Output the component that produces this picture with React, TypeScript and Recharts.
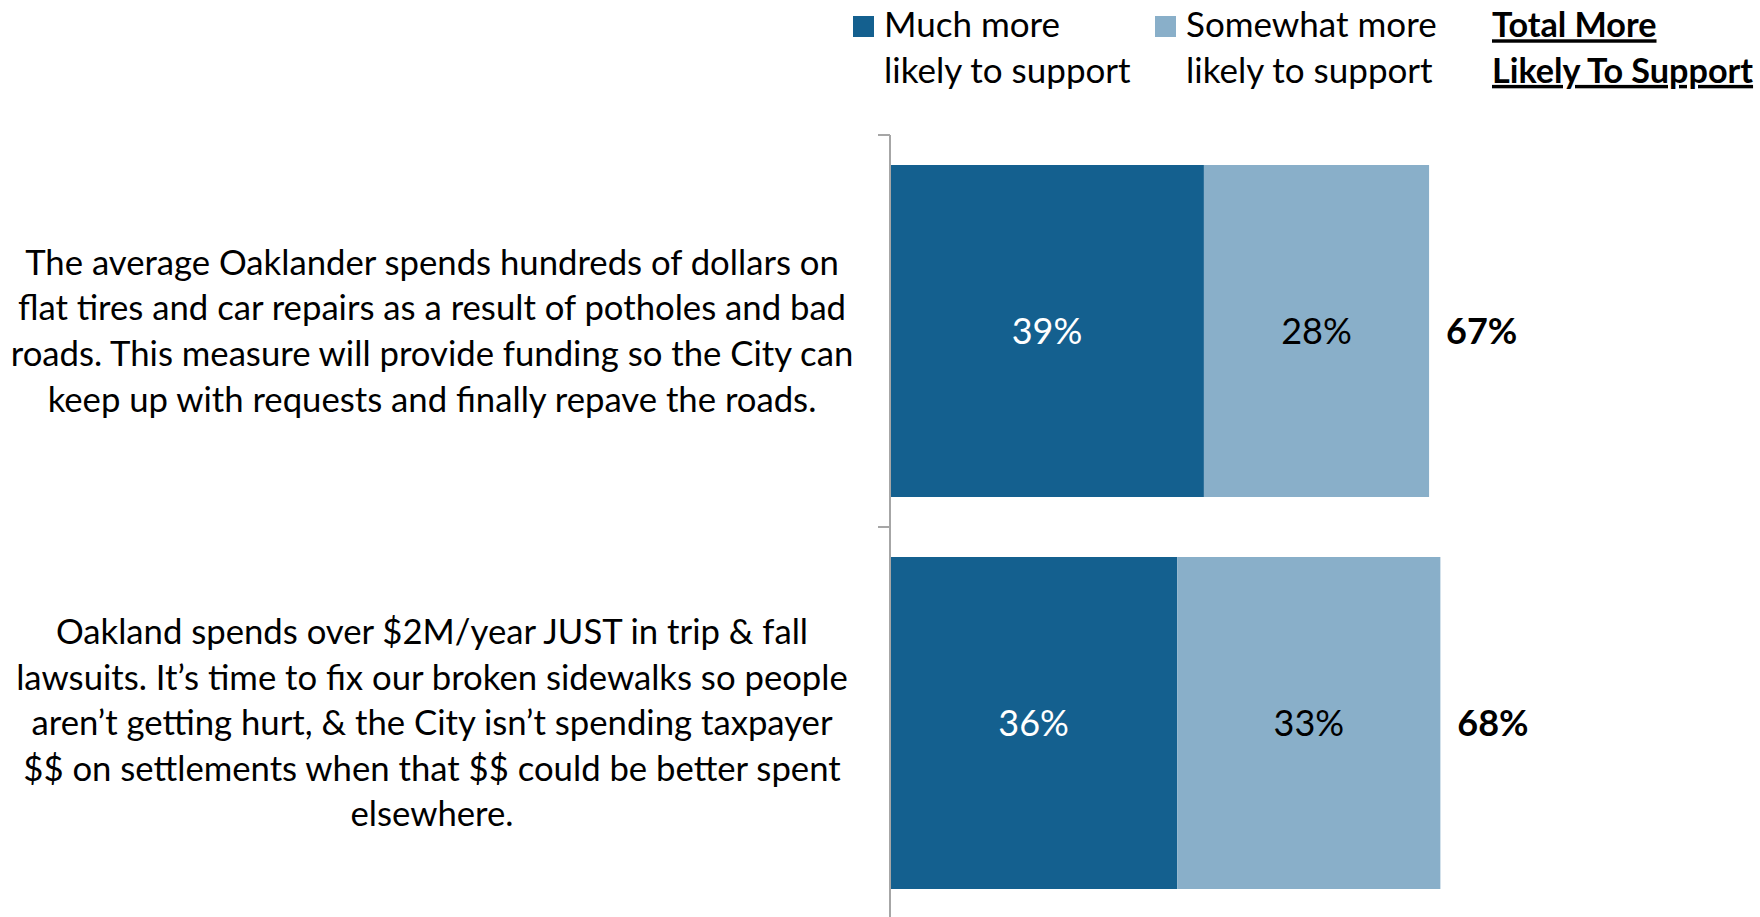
import React from 'react';
import { BarChart, Bar, XAxis, YAxis, LabelList, Legend } from 'recharts';

// ---------- data ----------
const statementLines: string[][] = [
  [
    'The average Oaklander spends hundreds of dollars on',
    'flat tires and car repairs as a result of potholes and bad',
    'roads. This measure will provide funding so the City can',
    'keep up with requests and finally repave the roads.',
  ],
  [
    'Oakland spends over $2M/year JUST in trip & fall',
    'lawsuits. It\u2019s time to fix our broken sidewalks so people',
    'aren\u2019t getting hurt, & the City isn\u2019t spending taxpayer',
    '$$ on settlements when that $$ could be better spent',
    'elsewhere.',
  ],
];
const muchMore = [38.9, 35.6];
const somewhatMore = [27.9, 32.6];
const totalMore = [67, 68];
const seriesKeys = ['much', 'somewhat'];
const seriesNames = ['Much more likely to support', 'Somewhat more likely to support'];
const seriesLegendLines = [
  ['Much more', 'likely to support'],
  ['Somewhat more', 'likely to support'],
];
const totalHeadingLines = ['Total More', 'Likely To Support'];

// ---------- styles ----------
const W = 1760;
const H = 930;
const MARGIN = { top: 135, right: 63, bottom: 11, left: 0 };
const Y_AXIS_W = 890;
const FONT = 'Lato, "Open Sans", sans-serif';
const DARK = '#14608F';
const LIGHT = '#89AFC9';
const AXIS = '#A6A6A6';
const LINE_H = 45.6;
const TEXT_SIZE = 34.7;
const LEGEND_SIZE = 35;

const data = statementLines.map((lines, i) => ({
  statement: lines.join(' '),
  much: muchMore[i],
  somewhat: somewhatMore[i],
  total: totalMore[i],
}));

const bandSize = (H - MARGIN.top - MARGIN.bottom) / data.length;
const pct = (v: any) => `${Math.round(Number(v))}%`;

const StatementTick = (props: any) => {
  const { y, payload } = props;
  const idx = data.findIndex((d) => d.statement === payload.value);
  const lines = idx >= 0 ? statementLines[idx] : [String(payload.value)];
  const cx = 432;
  const startDy = -((lines.length - 1) / 2) * LINE_H;
  const tickY = y - bandSize / 2;
  return (
    <g>
      <line x1={Y_AXIS_W - 12} x2={Y_AXIS_W} y1={tickY} y2={tickY} stroke={AXIS} strokeWidth={2} />
      <text x={cx} y={y} textAnchor="middle" fontSize={TEXT_SIZE} fontFamily={FONT} fill="#000">
        {lines.map((ln, i) => (
          <tspan key={i} x={cx} dy={i === 0 ? startDy + TEXT_SIZE * 0.35 : LINE_H}>
            {ln}
          </tspan>
        ))}
      </text>
    </g>
  );
};

const LegendContent = () => {
  const colors = [DARK, LIGHT];
  const itemX = [853, 1155];
  const base1 = 37.3;
  const base2 = base1 + LINE_H;
  return (
    <svg width={W} height={100} style={{ display: 'block' }}>
      {seriesLegendLines.map((lines, i) => (
        <g key={i}>
          <rect x={itemX[i]} y={16} width={21} height={21} fill={colors[i]} />
          <text x={itemX[i] + 31} y={base1} fontSize={LEGEND_SIZE} fontFamily={FONT} fill="#000">
            {lines[0]}
          </text>
          <text x={itemX[i] + 31} y={base2} fontSize={LEGEND_SIZE} fontFamily={FONT} fill="#000">
            {lines[1]}
          </text>
        </g>
      ))}
      {totalHeadingLines.map((ln, i) => (
        <text
          key={ln}
          x={1492}
          y={i === 0 ? base1 : base2}
          fontSize={34.2}
          fontFamily={FONT}
          fontWeight="bold"
          fill="#000"
          style={{ textDecoration: 'underline', textDecorationThickness: '3px' }}
        >
          {ln}
        </text>
      ))}
    </svg>
  );
};

export default function App() {
  return (
    <div
      style={{
        position: 'absolute',
        left: 0,
        top: 0,
        width: W,
        height: 917,
        overflow: 'hidden',
        background: '#fff',
        fontFamily: FONT,
      }}
    >
      <BarChart
        width={W}
        height={H}
        data={data}
        layout="vertical"
        margin={MARGIN}
        barCategoryGap={30}
      >
        <XAxis type="number" domain={[0, 100]} hide />
        <YAxis
          type="category"
          dataKey="statement"
          width={Y_AXIS_W}
          axisLine={{ stroke: AXIS, strokeWidth: 2 }}
          tickLine={false}
          tick={<StatementTick />}
          interval={0}
        />
        <Legend
          layout="horizontal"
          verticalAlign="middle"
          align="center"
          wrapperStyle={{ left: 0, top: 0, width: W }}
          content={<LegendContent />}
        />
        <Bar dataKey={seriesKeys[0]} name={seriesNames[0]} stackId="a" fill={DARK} isAnimationActive={false}>
          <LabelList
            dataKey={seriesKeys[0]}
            position="center"
            fill="#fff"
            fontSize={36}
            fontFamily={FONT}
            formatter={pct}
          />
        </Bar>
        <Bar dataKey={seriesKeys[1]} name={seriesNames[1]} stackId="a" fill={LIGHT} isAnimationActive={false}>
          <LabelList
            dataKey={seriesKeys[1]}
            position="center"
            fill="#000"
            fontSize={36}
            fontFamily={FONT}
            formatter={pct}
          />
          <LabelList
            dataKey="total"
            position="right"
            offset={17}
            fill="#000"
            fontSize={36}
            fontWeight="bold"
            fontFamily={FONT}
            formatter={pct}
          />
        </Bar>
      </BarChart>
    </div>
  );
}
